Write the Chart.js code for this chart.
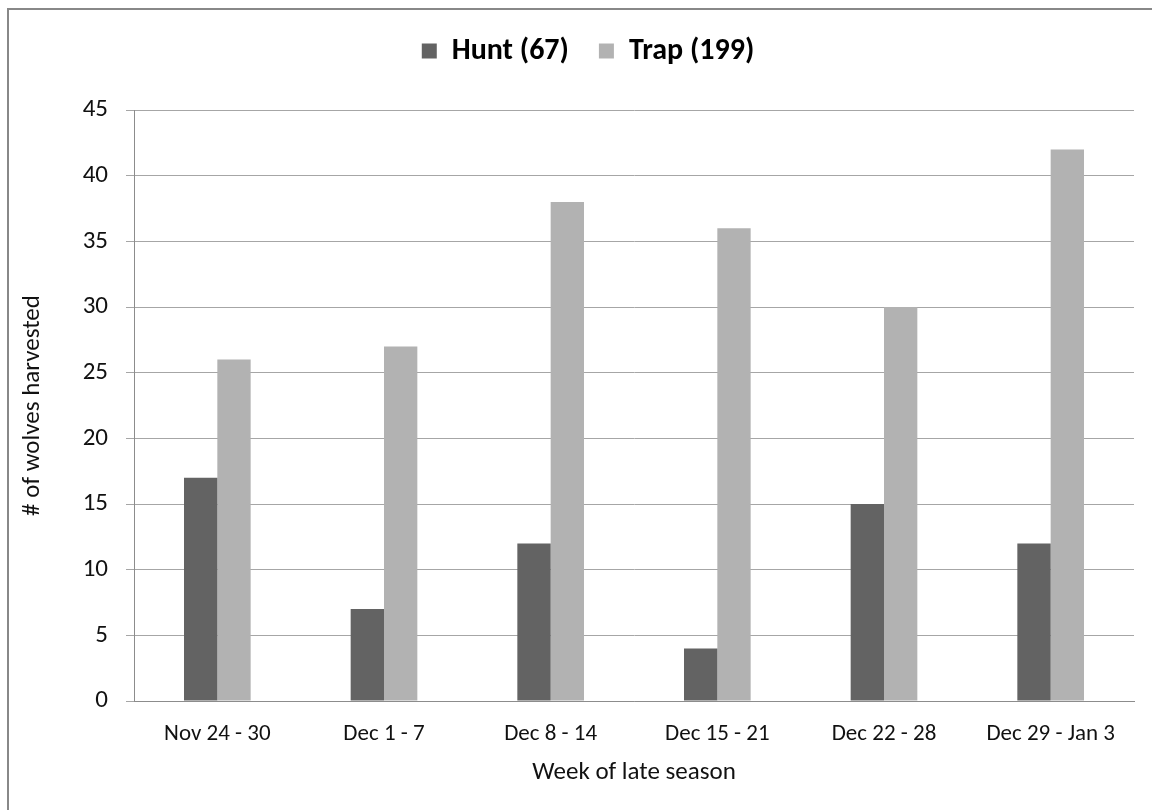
<!DOCTYPE html>
<html>
<head>
<meta charset="utf-8">
<script src="https://cdn.jsdelivr.net/npm/chart.js@4/dist/chart.umd.min.js"></script>
<style>
    html, body { margin: 0; padding: 0; background: #fff; overflow: hidden; }
    #frame {
        position: absolute; left: 7px; top: 8px; width: 1300px; height: 900px;
        border-left: 2px solid #888; border-top: 2px solid #888;
    }
    #wrap { position: absolute; left: 0; top: 0; width: 1152px; height: 810px; }
</style>
</head>
<body>
<div id="frame"></div>
<div id="wrap"><canvas id="harvestChart" width="1152" height="810"></canvas></div>
<script>
// Weekly wolf harvest, late season
const weeks = ['Nov 24 - 30', 'Dec 1 - 7', 'Dec 8 - 14', 'Dec 15 - 21', 'Dec 22 - 28', 'Dec 29 - Jan 3'];
const huntCounts = [17, 7, 12, 4, 15, 12];
const trapCounts = [26, 27, 38, 36, 30, 42];
const seriesNames = ['Hunt (67)', 'Trap (199)'];
const yTicks = [0, 5, 10, 15, 20, 25, 30, 35, 40, 45];

const FONT = "Carlito, Calibri, Lato, sans-serif";

// push the plot area down below the legend, and nudge the legend right a bit
const legendGap = {
    id: 'legendGap',
    beforeInit(chart) {
        const origFit = chart.legend.fit;
        chart.legend.fit = function fit() {
            origFit.bind(chart.legend)();
            this.height = 104;
        };
        const origDraw = chart.legend.draw;
        chart.legend.draw = function draw() {
            const c = this.ctx;
            c.save();
            c.translate(16, 0);
            origDraw.apply(this, arguments);
            c.restore();
        };
    }
};

const ctx = document.getElementById('harvestChart').getContext('2d');

new Chart(ctx, {
    type: 'bar',
    data: {
        labels: weeks,
        datasets: [{
            label: seriesNames[0],
            data: huntCounts,
            backgroundColor: '#636363',
            borderWidth: 0
        }, {
            label: seriesNames[1],
            data: trapCounts,
            backgroundColor: '#b2b2b2',
            borderWidth: 0
        }]
    },
    plugins: [legendGap],
    options: {
        responsive: false,
        animation: false,
        datasets: {
            bar: { categoryPercentage: 0.4, barPercentage: 1.0 }
        },
        layout: {
            padding: { left: 10, right: 18, top: 6, bottom: 0 }
        },
        plugins: {
            tooltip: { enabled: false },
            legend: {
                position: 'top',
                labels: {
                    color: '#000',
                    boxWidth: 15,
                    boxHeight: 15,
                    padding: 30,
                    font: { family: FONT, size: 30, weight: 'bold' }
                }
            }
        },
        scales: {
            x: {
                grid: { display: false, drawTicks: false },
                border: { display: true, color: '#8c8c8c', width: 1 },
                ticks: {
                    color: '#111',
                    padding: 19,
                    maxRotation: 0,
                    autoSkip: false,
                    font: { family: FONT, size: 23 }
                },
                title: {
                    display: true,
                    text: 'Week of late season',
                    color: '#111',
                    padding: { top: 0, bottom: 22 },
                    font: { family: FONT, size: 25 }
                },
                afterFit: (scale) => { scale.height = 109; }
            },
            y: {
                min: 0,
                max: 45,
                afterBuildTicks: (scale) => { scale.ticks = yTicks.map(v => ({ value: v })); },
                grid: {
                    color: '#a6a6a6',
                    lineWidth: 1,
                    drawTicks: true,
                    tickLength: 8,
                    tickColor: '#a6a6a6'
                },
                border: { display: true, color: '#8c8c8c', width: 1 },
                ticks: {
                    color: '#111',
                    padding: 18,
                    font: { family: FONT, size: 25 }
                },
                title: {
                    display: true,
                    text: '# of wolves harvested',
                    color: '#111',
                    padding: { top: 8, bottom: 0 },
                    font: { family: FONT, size: 25 }
                },
                afterFit: (scale) => { scale.width = 124; }
            }
        }
    }
});
</script>
</body>
</html>
